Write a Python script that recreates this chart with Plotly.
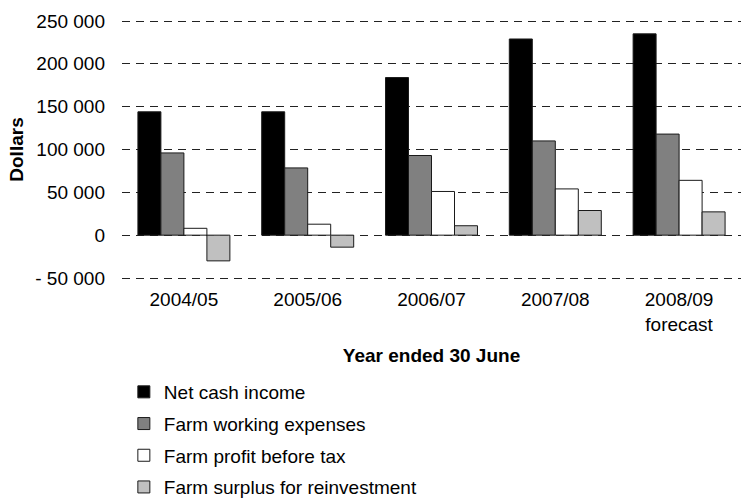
import plotly.graph_objects as go

categories = ["2004/05", "2005/06", "2006/07", "2007/08", "2008/09<br>forecast"]
net_cash_income = [144000, 144000, 184000, 229000, 235000]
farm_working_expenses = [96000, 78500, 93000, 110000, 118000]
farm_profit_before_tax = [8000, 12800, 51000, 54000, 64000]
farm_surplus_reinvestment = [-30000, -14000, 11000, 28800, 27200]

series_names = ["Net cash income", "Farm working expenses",
                "Farm profit before tax", "Farm surplus for reinvestment"]
series_values = [net_cash_income, farm_working_expenses,
                 farm_profit_before_tax, farm_surplus_reinvestment]
series_colors = ["#000000", "#808080", "#ffffff", "#c0c0c0"]

ytick_vals = [-50000, 0, 50000, 100000, 150000, 200000, 250000]
ytick_text = ["- 50 000", "0", "50 000", "100 000", "150 000", "200 000", "250 000"]

FONT = "Liberation Sans, Arial, sans-serif"

fig = go.Figure()
for name, vals, col in zip(series_names, series_values, series_colors):
    fig.add_trace(go.Bar(
        x=categories, y=vals, name=name, legendgroup=name,
        marker=dict(color=col, line=dict(color="#1a1a1a", width=1)),
    ))

fig.update_layout(
    width=741, height=498,
    margin=dict(l=122, r=0, t=18, b=217, pad=0),
    paper_bgcolor="white", plot_bgcolor="white",
    font=dict(family=FONT, size=19, color="black"),
    barmode="group", bargap=0.257, bargroupgap=0,
    showlegend=True,
    legend=dict(
        orientation="v", x=0.003, xanchor="left",
        yref="container", y=0.251, yanchor="top",
        font=dict(size=19), tracegroupgap=4,
        bgcolor="rgba(0,0,0,0)", borderwidth=0, itemwidth=30,
    ),
    xaxis=dict(
        showline=False, showgrid=False, zeroline=False, ticks="",
        tickfont=dict(size=19), ticklabelstandoff=5,
        title=dict(text="<b>Year ended 30 June</b>", font=dict(size=19), standoff=14),
    ),
    yaxis=dict(
        range=[-53500, 253500], tickvals=ytick_vals, ticktext=ytick_text,
        showline=False, zeroline=False, ticks="",
        showgrid=True, gridcolor="#222222", gridwidth=1, griddash="8px,6px",
        tickfont=dict(size=19), ticklabelstandoff=16,
        title=dict(text="<b>Dollars</b>", font=dict(size=19), standoff=6),
    ),
)

fig.write_html("out.html")
